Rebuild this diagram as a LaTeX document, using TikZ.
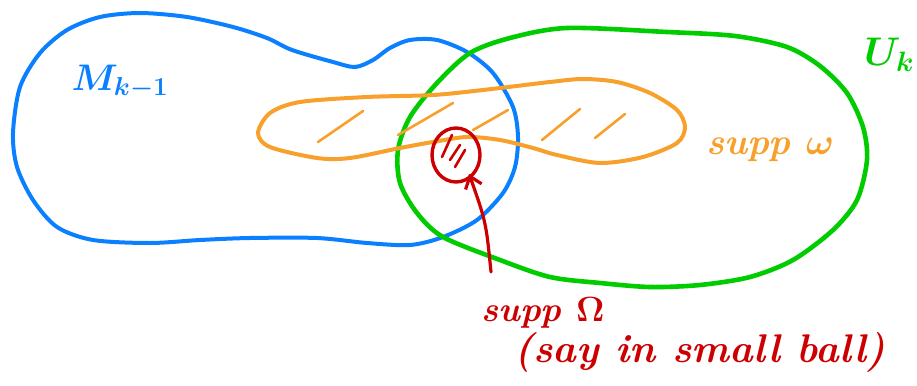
\RequirePackage{fix-cm}
\documentclass[tikz,border=0pt]{standalone}
\usepackage{amsmath}
\usepackage{xcolor}
\usetikzlibrary{arrows.meta,shapes.geometric}
\definecolor{mblue}{HTML}{0A80FF}
\definecolor{ugreen}{HTML}{00CC00}
\definecolor{worange}{HTML}{F7A02C}
\definecolor{ored}{HTML}{CC0000}

\begin{document}
\begin{tikzpicture}[x=1pt,y=-1pt,line cap=round,line join=round,
  hand/.style={font=\fontsize{37}{41}\selectfont\bfseries\itshape\boldmath,inner sep=0pt},
  blob/.style={line width=4pt},
  hatch/.style={line width=2.6pt}]
\useasboundingbox (0,0) rectangle (917,385);
% the set M_{k-1}
\draw[mblue,blob] plot[smooth cycle,tension=0.5] coordinates {
  (13,133) (20,87) (40,53) (67,30) (100,17) (140,13) (187,17) (233,27)
  (267,38) (292,50) (333,62) (355,67) (373,60) (390,48) (410,40) (437,40)
  (467,52) (493,73) (513,107) (518,137) (515,167) (503,193) (477,220)
  (443,237) (410,245) (367,243) (317,238) (250,238) (200,240) (150,243)
  (93,240) (57,227) (33,200) (17,167)};
% the open set U_k
\draw[ugreen,blob,line width=4.6pt] plot[smooth cycle,tension=0.5] coordinates {
  (437,83) (470,53) (510,38) (567,28) (667,32) (735,36) (787,47) (820,66)
  (847,93) (863,127) (867,160) (857,200) (833,230) (793,260) (750,277)
  (700,285) (650,287) (600,283) (550,277) (500,260) (443,237) (417,213)
  (400,183) (398,150) (410,117)};
% supp omega, hatched
\draw[worange,blob] plot[smooth cycle,tension=0.5] coordinates {
  (258,133) (270,113) (300,102) (367,97) (433,95) (483,90) (550,82) (583,79)
  (617,82) (650,93) (677,110) (685,127) (677,143) (643,157) (600,163)
  (557,155) (533,148) (500,140) (467,137) (433,142) (400,148) (350,158)
  (317,158) (270,147)};
\foreach \xa/\ya/\xb/\yb in {318/142/363/111, 398/135/453/103, 473/130/508/110,
  542/140/580/109, 595/138/625/114}
  \draw[worange,hatch] (\xa,\ya) -- (\xb,\yb);
% supp Omega in a small ball
\node[draw=ored,line width=3.4pt,ellipse,minimum width=48pt,minimum height=54pt,
  inner sep=0pt] (ball) at (456,155) {};
\foreach \xa/\ya/\xb/\yb in {442/157/452/135, 450/160/460/145, 455/167/465/150}
  \draw[ored,hatch] (\xa,\ya) -- (\xb,\yb);
\coordinate (tail) at (491,272);
\draw[ored,line width=3.2pt,-{Straight Barb[length=11pt,width=17pt,line width=3.2pt]},
  shorten >=-5pt] (tail) .. controls (486,222) .. (ball.-58);
% labels
\node[hand,mblue] (mlabel) at (120,82) {$M_{k-1}$};
\node[hand,ugreen,font=\fontsize{40}{44}\selectfont\boldmath,anchor=north west]
  (ulabel) at (864,38) {$U_k$};
\node[hand,worange] (wlabel) at (770,150) {supp $\omega$};
\node[hand,ored,font=\fontsize{35}{39}\selectfont\bfseries\itshape\boldmath]
  (olabel) at (543,313) {supp $\Omega$};
\node[hand,ored,font=\fontsize{40}{44}\selectfont\bfseries\itshape] (ballnote)
  at (700,352) {(say in small ball)};
\end{tikzpicture}
\end{document}
